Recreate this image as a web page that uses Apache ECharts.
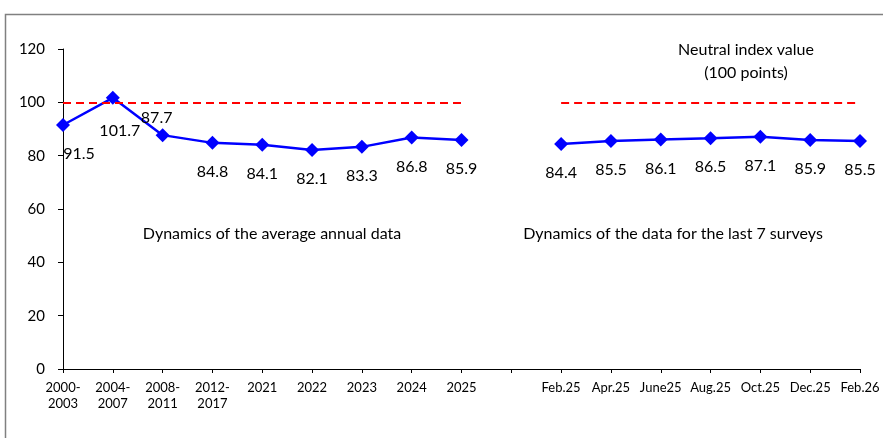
<!DOCTYPE html>
<html><head><meta charset="utf-8">
<script src="https://cdn.jsdelivr.net/npm/echarts@6/dist/echarts.min.js"></script>
<style>html,body{margin:0;padding:0;background:#fff}#c{width:883px;height:438px}</style>
</head><body><div id="c"></div>
<script>
const categories = ['2000-\n2003','2004-\n2007','2008-\n2011','2012-\n2017','2021','2022','2023','2024','2025','',
  'Feb.25','Apr.25','June25','Aug.25','Oct.25','Dec.25','Feb.26'];
const annualValues = [91.5, 101.7, 87.7, 84.8, 84.1, 82.1, 83.3, 86.8, 85.9];
const surveyValues = [84.4, 85.5, 86.1, 86.5, 87.1, 85.9, 85.5];
const neutralValue = 100;
const yTicks = [0, 20, 40, 60, 80, 100, 120];

const FONT = 'Lato';
const seriesData = annualValues.concat([null], surveyValues);
const labelTweaks = {
  0: {offset: [16, 0]},
  1: {offset: [7, 4]},
  2: {position: 'top', distance: 2, offset: [-6, 0]}
};
const data = seriesData.map((v, i) => labelTweaks[i] ? {value: v, label: labelTweaks[i]} : v);
const lastAnnual = annualValues.length - 1;
const firstSurvey = annualValues.length + 1;
const lastSurvey = categories.length - 1;

const chart = echarts.init(document.getElementById('c'), null, {renderer: 'canvas'});
const txt = (x, y, s) => ({type: 'text', x: x, y: y, silent: true,
  style: {text: s, font: '16px ' + FONT, fill: '#000', align: 'center', verticalAlign: 'middle'}});
chart.setOption({
  animation: false,
  textStyle: {fontFamily: FONT},
  grid: {left: 63, right: 23, top: 49, bottom: 69, containLabel: false},
  xAxis: {
    type: 'category', data: categories, boundaryGap: false,
    axisLine: {lineStyle: {color: '#000', width: 1}},
    axisTick: {alignWithLabel: true, length: 4, interval: 0, lineStyle: {color: '#000'}},
    axisLabel: {interval: 0, fontSize: 13, color: '#000', margin: 11, lineHeight: 16, fontFamily: FONT},
    splitLine: {show: false}
  },
  yAxis: {
    type: 'value', min: yTicks[0], max: yTicks[yTicks.length - 1], interval: 20,
    axisLine: {show: true, lineStyle: {color: '#000', width: 1}},
    axisTick: {show: true, length: 5, lineStyle: {color: '#000'}},
    axisLabel: {fontSize: 15, color: '#000', margin: 18, fontFamily: FONT},
    splitLine: {show: false}
  },
  series: [{
    type: 'line', data: data, connectNulls: false,
    symbol: 'diamond', symbolSize: 14,
    lineStyle: {color: '#0000FF', width: 2.5},
    itemStyle: {color: '#0000FF'},
    label: {show: true, position: 'bottom', distance: 14, fontSize: 16, color: '#000', fontFamily: FONT,
      formatter: p => p.value == null ? '' : Number(p.value).toFixed(1)},
    markLine: {
      silent: true, symbol: 'none', label: {show: false},
      lineStyle: {color: '#FF0000', type: [8, 5], width: 2},
      data: [
        [{xAxis: 0, yAxis: neutralValue}, {xAxis: lastAnnual, yAxis: neutralValue}],
        [{xAxis: firstSurvey, yAxis: neutralValue}, {xAxis: lastSurvey, yAxis: neutralValue}]
      ]
    }
  }],
  graphic: [
    {type: 'rect', left: 3, top: 12, shape: {width: 920, height: 460}, style: {fill: 'none', stroke: '#808080', lineWidth: 1.5}, silent: true},
    txt(272, 234, 'Dynamics of the average annual data'),
    txt(673, 234, 'Dynamics of the data for the last 7 surveys'),
    txt(746, 50, 'Neutral index value'),
    txt(746, 73, '(100 points)')
  ]
});
</script></body></html>
